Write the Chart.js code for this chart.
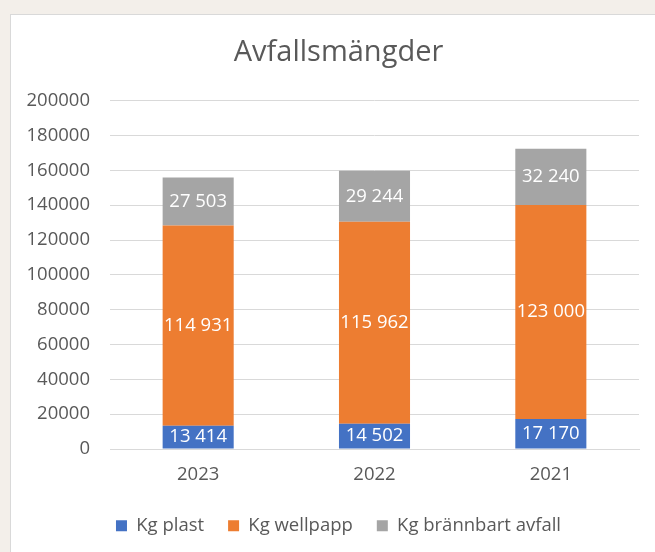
<!DOCTYPE html>
<html lang="sv">
<head>
<meta charset="utf-8">
<title>Avfallsmängder</title>
<script src="https://cdn.jsdelivr.net/npm/chart.js@4.4.1/dist/chart.umd.min.js"></script>
<style>
    html, body { margin: 0; padding: 0; }
    body { width: 655px; height: 552px; overflow: hidden; background: #f3efea; position: relative; }
    #box { position: absolute; left: 10px; top: 14px; width: 700px; height: 600px; background: #fff; border: 1px solid #d9d9d9; }
    #CanvasChart { position: absolute; left: 11px; top: 15px; }
</style>
</head>
<body>
<div id="box"></div>
<canvas id="CanvasChart" width="644" height="540"></canvas>
<script>
const years = ['2023', '2022', '2021'];
const kgPlast = [13414, 14502, 17170];
const kgWellpapp = [114931, 115962, 123000];
const kgBrannbart = [27503, 29244, 32240];

const textColor = '#595959';
const fontFamily = '"Open Sans", "Liberation Sans", sans-serif';

// "13414" -> "13 414"
function fmt(v) {
    return String(v).replace(/\B(?=(\d{3})+(?!\d))/g, ' ');
}

// white value labels in the middle of every segment
const segmentLabels = {
    id: 'segmentLabels',
    afterDatasetsDraw(chart) {
        const ctx = chart.ctx;
        ctx.save();
        ctx.font = '18.5px ' + fontFamily;
        ctx.fillStyle = '#ffffff';
        ctx.textAlign = 'center';
        ctx.textBaseline = 'middle';
        chart.data.datasets.forEach((ds, i) => {
            chart.getDatasetMeta(i).data.forEach((bar, j) => {
                const p = bar.getProps(['x', 'y', 'base'], true);
                ctx.fillText(fmt(ds.data[j]), p.x, (p.y + p.base) / 2);
            });
        });
        ctx.restore();
    }
};

const data = {
    labels: years,
    datasets: [{
        label: 'Kg plast',
        data: kgPlast,
        backgroundColor: '#4472c4'
    }, {
        label: 'Kg wellpapp',
        data: kgWellpapp,
        backgroundColor: '#ed7d31'
    }, {
        label: 'Kg brännbart avfall',
        data: kgBrannbart,
        backgroundColor: '#a5a5a5'
    }]
};

const ctx = document.getElementById('CanvasChart').getContext('2d');
const CanvasChart = new Chart(ctx, {
    type: 'bar',
    data: data,
    plugins: [segmentLabels],
    options: {
        responsive: false,
        animation: false,
        datasets: {
            bar: { categoryPercentage: 1, barPercentage: 0.403, borderWidth: 0 }
        },
        layout: {
            padding: { top: 0, left: 15, right: 4, bottom: 10 }
        },
        scales: {
            x: {
                stacked: true,
                afterFit: s => { s.height = 43.5; },
                grid: { display: false, drawTicks: false },
                border: { display: true, color: '#d9d9d9' },
                ticks: { color: textColor, padding: 15, font: { family: fontFamily, size: 18.5 } }
            },
            y: {
                stacked: true,
                min: 0,
                max: 200000,
                afterFit: s => { s.width = 84; },
                grid: { color: '#d9d9d9', drawTicks: false },
                border: { display: false },
                ticks: {
                    stepSize: 20000,
                    color: textColor,
                    padding: 20,
                    font: { family: fontFamily, size: 18.5 },
                    callback: v => String(v)
                }
            },
            // empty right-hand strip so the title and legend sit where the original has them
            pad: {
                position: 'right',
                afterFit: s => { s.width = 12; },
                grid: { display: false, drawTicks: false },
                border: { display: false },
                ticks: { display: false }
            }
        },
        plugins: {
            title: {
                display: true,
                text: 'Avfallsmängder',
                color: textColor,
                font: { family: fontFamily, size: 29, weight: 'normal', lineHeight: 1.2 },
                padding: { top: 20.6, bottom: 30.3 }
            },
            legend: {
                position: 'bottom',
                labels: {
                    color: textColor,
                    boxWidth: 11,
                    boxHeight: 11,
                    padding: 24,
                    font: { family: fontFamily, size: 18.5 }
                }
            },
            tooltip: { enabled: false }
        }
    }
});
</script>
</body>
</html>
